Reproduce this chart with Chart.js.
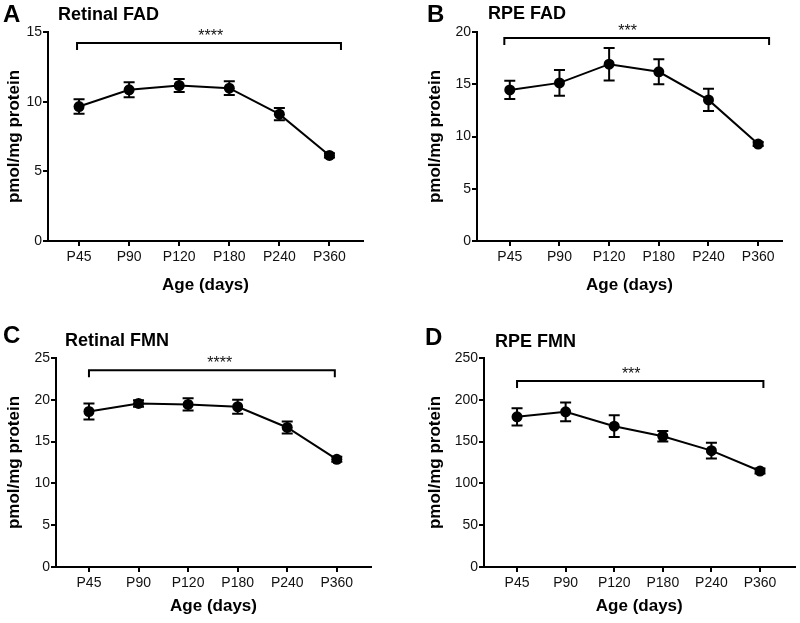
<!DOCTYPE html>
<html>
<head>
<meta charset="utf-8">
<script src="https://cdn.jsdelivr.net/npm/chart.js@4.4.1/dist/chart.umd.min.js"></script>
<style>
  body { margin: 0; background: #fff; }
  canvas { position: absolute; }
</style>
</head>
<body>
<canvas id="chartA" width="400" height="310" style="left:0;top:0"></canvas>
<canvas id="chartB" width="400" height="310" style="left:400px;top:0"></canvas>
<canvas id="chartC" width="400" height="313" style="left:0;top:310px"></canvas>
<canvas id="chartD" width="400" height="313" style="left:400px;top:310px"></canvas>
<script>
// ages on the x axis
const ages = ['P45', 'P90', 'P120', 'P180', 'P240', 'P360'];

// means and error bars (pmol/mg protein)
const retinalFadMean = [9.65, 10.85, 11.16, 10.97, 9.10, 6.14];
const retinalFadErr  = [0.52, 0.54, 0.47, 0.50, 0.44, 0.15];
const rpeFadMean     = [14.46, 15.13, 16.92, 16.19, 13.50, 9.28];
const rpeFadErr      = [0.88, 1.23, 1.55, 1.20, 1.06, 0.20];
const retinalFmnMean = [18.6, 19.56, 19.45, 19.17, 16.69, 12.88];
const retinalFmnErr  = [0.95, 0.40, 0.74, 0.84, 0.72, 0.30];
const rpeFmnMean     = [179.6, 185.6, 168.4, 156.4, 139.2, 114.8];
const rpeFmnErr      = [10.4, 11.2, 13.0, 6.4, 9.4, 3.0];

// y tick labels
const ticksA = [0, 5, 10, 15];
const ticksB = [0, 5, 10, 15, 20];
const ticksC = [0, 5, 10, 15, 20, 25];
const ticksD = [0, 50, 100, 150, 200, 250];

// significance brackets: from/to in age index, y in data units
const bracketA = { from: -0.04, to: 5.23, y: 14.21, label: '****', labelAt: 2.63 };
const bracketB = { from: -0.11, to: 5.22, y: 19.42, label: '***', labelAt: 2.37 };
const bracketC = { from: 0, to: 4.96, y: 23.52, label: '****', labelAt: 2.64 };
const bracketD = { from: 0, to: 5.07, y: 222.4, label: '***', labelAt: 2.35 };

Chart.defaults.font.family = '"Liberation Sans", Arial, sans-serif';
Chart.defaults.color = '#111';

function makePanel(id, p) {
  const ctx = document.getElementById(id).getContext('2d');
  const points = p.mean.map((v, i) => ({ x: i, y: v }));

  const extras = {
    id: 'extras',
    afterDatasetsDraw(chart) {
      const c = chart.ctx;
      const xs = chart.scales.x, ys = chart.scales.y;
      c.save();
      c.strokeStyle = '#000';
      c.lineWidth = 2;
      // error bars
      points.forEach((pt, i) => {
        const px = xs.getPixelForValue(pt.x);
        const top = ys.getPixelForValue(pt.y + p.err[i]);
        const bot = ys.getPixelForValue(pt.y - p.err[i]);
        c.beginPath();
        c.moveTo(px, top); c.lineTo(px, bot);
        c.moveTo(px - 5.5, top); c.lineTo(px + 5.5, top);
        c.moveTo(px - 5.5, bot); c.lineTo(px + 5.5, bot);
        c.stroke();
      });
      // bracket
      const b = p.bracket;
      const by = ys.getPixelForValue(b.y);
      const bx1 = xs.getPixelForValue(b.from), bx2 = xs.getPixelForValue(b.to);
      c.beginPath();
      c.moveTo(bx1, by + 7); c.lineTo(bx1, by); c.lineTo(bx2, by); c.lineTo(bx2, by + 7);
      c.stroke();
      c.fillStyle = '#111';
      c.font = '16px "Liberation Sans", Arial, sans-serif';
      c.textAlign = 'center';
      c.textBaseline = 'alphabetic';
      c.fillText(b.label, xs.getPixelForValue(b.labelAt), by - 2);
      // panel letter and title
      c.fillStyle = '#000';
      c.textAlign = 'left';
      c.font = 'bold 24px "Liberation Sans", Arial, sans-serif';
      c.fillText(p.letter, p.letterPos[0], p.letterPos[1]);
      c.font = 'bold 18px "Liberation Sans", Arial, sans-serif';
      c.fillText(p.title, p.titlePos[0], p.titlePos[1]);
      c.restore();
    }
  };

  new Chart(ctx, {
    type: 'line',
    data: {
      datasets: [{
        data: points,
        borderColor: '#000',
        borderWidth: 2,
        pointRadius: 5.5,
        pointBackgroundColor: '#000',
        pointBorderWidth: 0,
        tension: 0,
        clip: false
      }]
    },
    options: {
      responsive: false,
      animation: false,
      devicePixelRatio: 1,
      layout: { padding: p.padding },
      plugins: { legend: { display: false }, tooltip: { enabled: false } },
      scales: {
        x: {
          type: 'linear',
          min: p.xRange[0],
          max: p.xRange[1],
          afterBuildTicks: s => { s.ticks = ages.map((a, i) => ({ value: i })); },
          afterFit: s => { s.height = p.xHeight; },
          border: { display: true, color: '#000', width: 2 },
          grid: { drawOnChartArea: false, drawTicks: true, tickLength: 5, color: '#000', lineWidth: 2 },
          ticks: { callback: v => ages[v], font: { size: 14 }, padding: 3, maxRotation: 0 },
          title: { display: true, text: 'Age (days)', color: '#000', font: { size: 17, weight: 'bold' }, padding: { top: 0, bottom: 4 } }
        },
        y: {
          min: 0,
          max: p.yTicks[p.yTicks.length - 1],
          afterBuildTicks: s => { s.ticks = p.yTicks.map(v => ({ value: v })); },
          afterFit: s => { s.width = p.yWidth; },
          border: { display: true, color: '#000', width: 2 },
          grid: { drawOnChartArea: false, drawTicks: true, tickLength: 5, color: '#000', lineWidth: 2 },
          ticks: { font: { size: 14 }, padding: 1 },
          title: { display: true, text: 'pmol/mg protein', color: '#000', font: { size: 17, weight: 'bold' }, padding: { top: 4, bottom: 0 } }
        }
      }
    },
    plugins: [extras]
  });
}

makePanel('chartA', {
  mean: retinalFadMean, err: retinalFadErr, yTicks: ticksA, bracket: bracketA,
  letter: 'A', title: 'Retinal FAD', letterPos: [3, 21.5], titlePos: [58, 20],
  padding: { left: 0, top: 32, right: 37, bottom: 10 }, yWidth: 48, xHeight: 59, xRange: [-0.62, 5.67]
});
makePanel('chartB', {
  mean: rpeFadMean, err: rpeFadErr, yTicks: ticksB, bracket: bracketB,
  letter: 'B', title: 'RPE FAD', letterPos: [27, 21.5], titlePos: [88, 19],
  padding: { left: 21, top: 32, right: 18, bottom: 10 }, yWidth: 56, xHeight: 59, xRange: [-0.66, 5.48]
});
makePanel('chartC', {
  mean: retinalFmnMean, err: retinalFmnErr, yTicks: ticksC, bracket: bracketC,
  letter: 'C', title: 'Retinal FMN', letterPos: [3, 33], titlePos: [65, 36],
  padding: { left: 0, top: 48, right: 29, bottom: 2 }, yWidth: 56, xHeight: 54, xRange: [-0.665, 5.69]
});
makePanel('chartD', {
  mean: rpeFmnMean, err: rpeFmnErr, yTicks: ticksD, bracket: bracketD,
  letter: 'D', title: 'RPE FMN', letterPos: [25, 35], titlePos: [95, 37],
  padding: { left: 21, top: 48, right: 0, bottom: 2 }, yWidth: 63, xHeight: 54, xRange: [-0.68, 5.71]
});
</script>
</body>
</html>
